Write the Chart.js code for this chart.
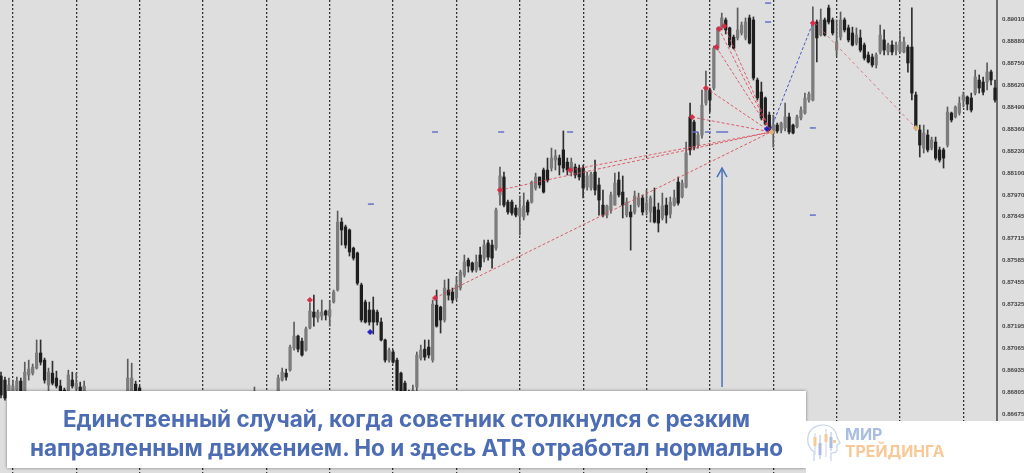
<!DOCTYPE html>
<html lang="ru"><head><meta charset="utf-8"><title>ATR chart</title>
<script src="https://cdn.jsdelivr.net/npm/chart.js@4/dist/chart.umd.min.js"></script>
<style>
html,body{margin:0;padding:0;background:#fff;overflow:hidden}
#wrap{position:relative;width:1024px;height:473px;overflow:hidden;background:#dedede}
canvas{position:absolute;left:0;top:0;filter:blur(.6px)}
#panel{position:absolute;left:7px;top:391px;width:799px;height:77px;background:#fff;box-shadow:0 0 3px rgba(0,0,0,.45);
 color:#4c6db3;font:700 22.5px/29px Inter,"Open Sans",sans-serif;text-align:center;padding-top:13px;box-sizing:border-box}
#panel div{white-space:nowrap}
#logo{position:absolute;left:806px;top:421px;width:218px;height:52px;background:#fff}
#logo span{position:absolute;left:39px;white-space:nowrap;font:700 16px/16px Inter,"Open Sans",sans-serif}
#logo .a{top:5px;color:#a9bde2}
#logo .b{top:23px;color:#f8c997;font-size:15.8px}
#logo svg{position:absolute;left:0;top:2px}
</style></head><body><div id="wrap">
<canvas id="c" width="1024" height="473"></canvas>
<div id="panel"><div>Единственный случай, когда советник столкнулся с резким</div><div>направленным движением. Но и здесь ATR отработал нормально</div></div>
<div id="logo"><svg width="36" height="42" viewBox="0 0 36 42" fill="none">
<path d="M8 38V29C3 25 1 20 2 14C3 6 10 2 17 2C25 2 30 7 31 14L34 20L31 22V27C31 30 28 30 25 30V38" stroke="#c5d2ea" stroke-width="1.2"/>
<path d="M9 10V32M20 6V34" stroke="#c5d2ea"/><path d="M14 12V36M25 9V28" stroke="#a9bde2"/>
<rect x="7.5" y="14" width="3" height="9" fill="#f8c997"/><rect x="12.5" y="20" width="3" height="12" fill="#a9bde2"/>
<rect x="18.5" y="11" width="3" height="8" fill="#f8c997"/><rect x="23.5" y="14" width="3" height="11" fill="#a9bde2"/><rect x="27" y="17" width="3" height="3" fill="#f8c997"/>
</svg><span class="a">МИР</span><span class="b">ТРЕЙДИНГА</span></div>
</div>
<script>
// Prices are in 1e-5 units (88360 = 0.88360); null = candle hidden behind the caption.
const high=[86923,86894,86888,86876,86894,86888,86982,86994,86971,87113,
87113,87006,86947,86988,86929,86876,86829,86935,86923,86917,
86864,86870,null,null,null,null,null,null,null,null,
null,null,87000,86976,86870,86841,null,null,null,null,
null,null,null,null,null,null,null,null,null,null,
null,null,null,null,null,null,null,null,null,null,
null,null,null,null,86835,null,null,null,null,null,
86906,86947,86941,87083,87219,87142,87124,87189,87331,87378,
87290,87349,87290,87343,87408,87875,87834,87792,87769,87662,
87633,87449,87349,87337,87367,87290,87243,87118,87065,87053,
87006,86923,86870,86817,86847,87042,87083,87113,87113,87349,
87408,87313,87467,87473,87420,87485,87526,87615,87597,87574,
87615,87662,87704,87704,87704,87893,88135,88105,87940,87940,
87910,87964,87982,87940,88052,88099,88076,88129,88188,88247,
88236,88206,88348,88188,88188,88153,88147,88147,88105,88105,
88176,88070,87999,87910,87987,88099,88105,88082,87952,87910,
87993,87981,87970,87999,87964,88011,87922,87981,87952,87958,
87999,88076,88058,88283,88513,88413,88342,88590,88702,88602,
88850,88962,89045,89016,88962,88915,89075,88992,89016,89033,
89022,88661,88637,88549,88460,88442,88395,88401,88513,88454,
88389,88442,88490,88572,88578,89081,89004,89069,89016,89092,
89016,89004,89051,89016,88974,88962,88957,88945,88868,88815,
88803,88809,88974,88945,88868,88880,88874,88939,88903,88856,
89075,88578,88383,88383,88354,88312,88312,88253,88247,88490,
88460,88496,88549,88578,88555,88572,88708,88679,88667,88750,
88708,88649];
const open=[86900,86876,86805,86805,86817,86870,86805,86906,86917,86947,
87036,86994,86847,86917,86888,86841,86817,86811,86876,86829,
86835,86805,null,null,null,null,null,null,null,null,
null,null,86788,86805,86852,86829,null,null,null,null,
null,null,null,null,null,null,null,null,null,null,
null,null,null,null,null,null,null,null,null,null,
null,null,null,null,86770,null,null,null,null,null,
86770,86876,86917,86935,87065,87136,87106,87053,87184,87278,
87242,87254,87284,87254,87337,87408,87810,87781,87763,87656,
87627,87438,87337,87290,87290,87278,87219,87113,86994,87042,
86994,86917,86858,86805,86758,86835,87006,87059,87071,86994,
87319,87307,87231,87408,87396,87361,87420,87497,87585,87568,
87526,87615,87597,87686,87674,87656,87970,88076,87928,87928,
87893,87845,87840,87928,87928,88011,88076,88117,88117,88129,
88176,88188,88236,88164,88105,88135,88129,88129,88017,88011,
88105,88029,87910,87851,87881,87910,88058,87987,87851,87869,
87869,87910,87952,87881,87869,87899,87881,87834,87910,87857,
87910,88046,87958,88017,88431,88401,88265,88324,88513,88590,
88602,88838,88957,89004,88957,88903,88898,88927,88898,89016,
89004,88649,88578,88543,88442,88336,88383,88354,88366,88431,
88383,88372,88425,88454,88531,88531,88992,88915,89004,89075,
89004,88826,88903,89004,88957,88927,88868,88898,88856,88797,
88785,88738,88815,88886,88815,88856,88826,88815,88815,88844,
88844,88561,88354,88247,88324,88247,88283,88236,88236,88265,
88454,88431,88454,88531,88549,88543,88572,88649,88637,88637,
88697,88602];
const close=[86788,86770,86847,86841,86870,86805,86923,86941,86953,87036,
86982,86876,86923,86858,86841,86805,86770,86906,86841,86858,
86805,86841,null,null,null,null,null,null,null,null,
null,null,86888,86888,86788,86770,null,null,null,null,
null,null,null,null,null,null,null,null,null,null,
null,null,null,null,null,null,null,null,null,null,
null,null,null,null,86805,null,null,null,null,null,
86888,86923,86894,87071,87136,87059,87024,87178,87284,87248,
87278,87278,87260,87290,87396,87810,87763,87674,87633,87597,
87449,87231,87219,87219,87219,87219,87113,86994,87053,86982,
86817,86805,86805,86770,86817,87024,87053,87012,87024,87325,
87195,87231,87420,87378,87349,87438,87514,87574,87550,87526,
87574,87544,87674,87603,87597,87881,88082,87910,87869,87863,
87851,87893,87905,87869,88046,88076,88029,87987,88058,88188,
88200,88147,88129,88117,88164,88088,88076,88011,88082,88093,
87999,87940,87851,87904,87970,88040,87970,87910,87928,87840,
87964,87952,87869,87922,87952,87810,87804,87905,87851,87928,
87952,87922,88040,88218,88236,88253,88324,88501,88602,88531,
88838,88957,89016,88945,88856,88838,88945,88974,88992,88868,
88661,88543,88425,88389,88354,88383,88348,88395,88431,88342,
88336,88431,88472,88543,88566,88986,88898,89004,88915,88992,
88927,88874,89004,88945,88886,88856,88915,88826,88779,88756,
88738,88797,88915,88826,88856,88815,88856,88874,88874,88750,
88572,88366,88265,88336,88236,88295,88188,88176,88188,88460,
88413,88490,88513,88561,88507,88472,88667,88602,88578,88697,
88649,88531];
const low=[86770,86758,86788,86794,86805,86788,86788,86876,86906,86941,
86965,86858,86805,86847,86829,86788,86758,86788,86829,86805,
86782,86782,null,null,null,null,null,null,null,null,
null,null,86770,86788,86770,86758,null,null,null,null,
null,null,null,null,null,null,null,null,null,null,
null,null,null,null,null,null,null,null,null,null,
null,null,null,null,86758,null,null,null,null,null,
86758,86870,86876,86929,87053,87042,87018,87047,87178,87195,
87219,87231,87231,87195,87331,87402,87674,87656,87609,87585,
87438,87219,87213,87201,87148,87201,87107,86982,86982,86976,
86799,86788,86788,86758,86746,86805,86994,86994,87006,86982,
87189,87154,87219,87349,87331,87349,87408,87485,87514,87514,
87514,87526,87574,87585,87538,87644,87910,87899,87857,87851,
87840,87733,87822,87851,87922,87999,88011,87981,88046,88111,
88117,88088,88105,88088,88082,88070,88058,87952,87999,87999,
87970,87851,87840,87834,87863,87910,87958,87834,87840,87644,
87857,87899,87851,87851,87810,87804,87751,87822,87804,87834,
87904,87910,87952,88011,88206,88236,88247,88306,88501,88460,
88590,88826,88945,88921,88844,88832,88886,88915,88886,88862,
88649,88531,88413,88383,88342,88253,88336,88336,88348,88330,
88330,88366,88413,88448,88519,88525,88756,88909,88909,88980,
88915,88791,88886,88933,88874,88850,88856,88815,88767,88750,
88726,88720,88803,88797,88797,88797,88797,88809,88809,88696,
88531,88354,88194,88218,88224,88236,88176,88164,88129,88253,
88401,88425,88442,88490,88472,88460,88561,88572,88561,88590,
88620,88519];
const tickLabels=[89010,88880,88750,88620,88490,88360,88230,88100,87970,87845,87715,87585,87455,87325,87195,87065,86935,86805,86675];
const separators=[3,19,35,51,67,83,99,115,131,147,163,179,195,211,227,243];
// Losing sells closed at one exit: candle position and price of each opening
const entryBar=[109.6,126,143.7,174.5,178,180.6,181.3,182.6];
const entryPrice=[87361,87999,88117,88430,88602,88844,88951,88968];
const exitBar=194.4, exitPrice=88342;
const loneEntryBar=[78], loneEntryPrice=[87349];
const blueEntryBar=[93.2,193.4], blueEntryPrice=[87160,88360];
const buyBar=[205], buyPrice=[88986];
const closeMarkBar=[194.6,231], closeMarkPrice=[88342,88366];
const levelBar=[109.6,126.3,143.7,93.4,193.7,193.7,205,205,175.2,178.5];
const levelPrice=[88342,88342,88342,87916,89104,88992,88366,87851,88342,88342];
const wideLevelBar=[182.1], wideLevelPrice=[88342];
const arrowBar=[182.07,180.8,183.3], arrowBottom=86835, arrowTip=88129, arrowWing=88076;

const P=v=>v==null?null:v/1e5;
const idx=high.map((_,i)=>i).filter(i=>high[i]!=null);
const wick=idx.map(i=>({x:i,y:[P(low[i]),P(high[i])]}));
const body=idx.map(i=>({x:i,y:[P(open[i]),P(close[i])]}));
const bodyColor=idx.map(i=>close[i]>=open[i]?'#7c7c7c':'#1e1e1e');
const wickColor=idx.map(i=>close[i]>=open[i]?'#5c5c5c':'#303030');
const pts=(xs,ys)=>xs.map((x,i)=>({x,y:P(ys[i])}));
const line=(data,color,w,dash,order)=>({type:'line',data,borderColor:color,borderWidth:w,borderDash:dash,pointRadius:0,order,fill:false,tension:0});
const marks=(data,color,style,r,order,w)=>({type:'line',data,showLine:false,pointStyle:style,pointRadius:r,pointBackgroundColor:color,pointBorderColor:color,pointBorderWidth:w||1,order});
const noPadding=s=>{s.paddingTop=0;s.paddingBottom=0;s.paddingLeft=0;s.paddingRight=0};

const datasets=[
 {type:'bar',data:wick,backgroundColor:wickColor,barThickness:1,grouped:false,order:10},
 {type:'bar',data:body,backgroundColor:bodyColor,barThickness:2.6,grouped:false,order:9},
 ...entryBar.map((b,i)=>line([{x:b,y:P(entryPrice[i])},{x:exitBar,y:P(exitPrice)}],'rgba(218,72,88,.85)',1,[3,2],5)),
 line([{x:exitBar,y:P(88360)},{x:buyBar[0],y:P(buyPrice[0])}],'#4a56c0',1,[3,2],5),
 line([{x:205.6,y:P(buyPrice[0])},{x:closeMarkBar[1],y:P(closeMarkPrice[1])}],'rgba(214,100,110,.8)',1,[3,3],5),
 marks(pts(entryBar,entryPrice),'#d92a46','rectRot',2.5,1),
 marks(pts(loneEntryBar,loneEntryPrice),'#d92a46','rectRot',2.5,1),
 marks(pts(blueEntryBar,blueEntryPrice),'#2020c0','rectRot',2.5,1),
 marks(pts(buyBar,buyPrice),'#d92a46','rectRot',2.5,1),
 marks(pts(closeMarkBar,closeMarkPrice),'#e0b070','rectRot',2.5,1),
 marks(pts(levelBar,levelPrice),'#6470c8','line',3,2,1.5),
 marks(pts(wideLevelBar,wideLevelPrice),'#6470c8','line',6,2,1.5),
 line([{x:arrowBar[0],y:P(arrowBottom)},{x:arrowBar[0],y:P(arrowTip)}],'#4a72b8',1.5,[],0),
 line([{x:arrowBar[1],y:P(arrowWing)},{x:arrowBar[0],y:P(arrowTip)},{x:arrowBar[2],y:P(arrowWing)}],'#4a72b8',1.5,[],0)
];

new Chart(document.getElementById('c'),{
 type:'bar',
 data:{datasets},
 options:{
  responsive:false,animation:false,
  layout:{padding:0,autoPadding:false},
  plugins:{legend:{display:false},tooltip:{enabled:false}},
  scales:{
   x:{type:'linear',offset:false,min:-0.2525,max:251.5,
      grid:{offset:false,color:'#333333',lineWidth:1.3,drawTicks:false},
      border:{display:false,dash:[2,2]},
      ticks:{display:false},
      afterBuildTicks:s=>{s.ticks=separators.map(value=>({value}))},
      afterFit:s=>{s.height=0;noPadding(s)}},
   y:{position:'right',min:0.86327,max:0.89122,
      grid:{display:false,drawTicks:true,tickLength:3,tickColor:'#555'},
      border:{display:true,color:'#6a6a6a',width:2},
      ticks:{color:'#444444',font:{family:'"Liberation Sans"',size:6.2,weight:'bold'},padding:2,autoSkip:false,
             callback:v=>v.toFixed(5)},
      afterBuildTicks:s=>{s.ticks=tickLabels.map(v=>({value:v/1e5}))},
      afterFit:s=>{s.width=27;noPadding(s)}}
  }
 }
});
</script></body></html>
